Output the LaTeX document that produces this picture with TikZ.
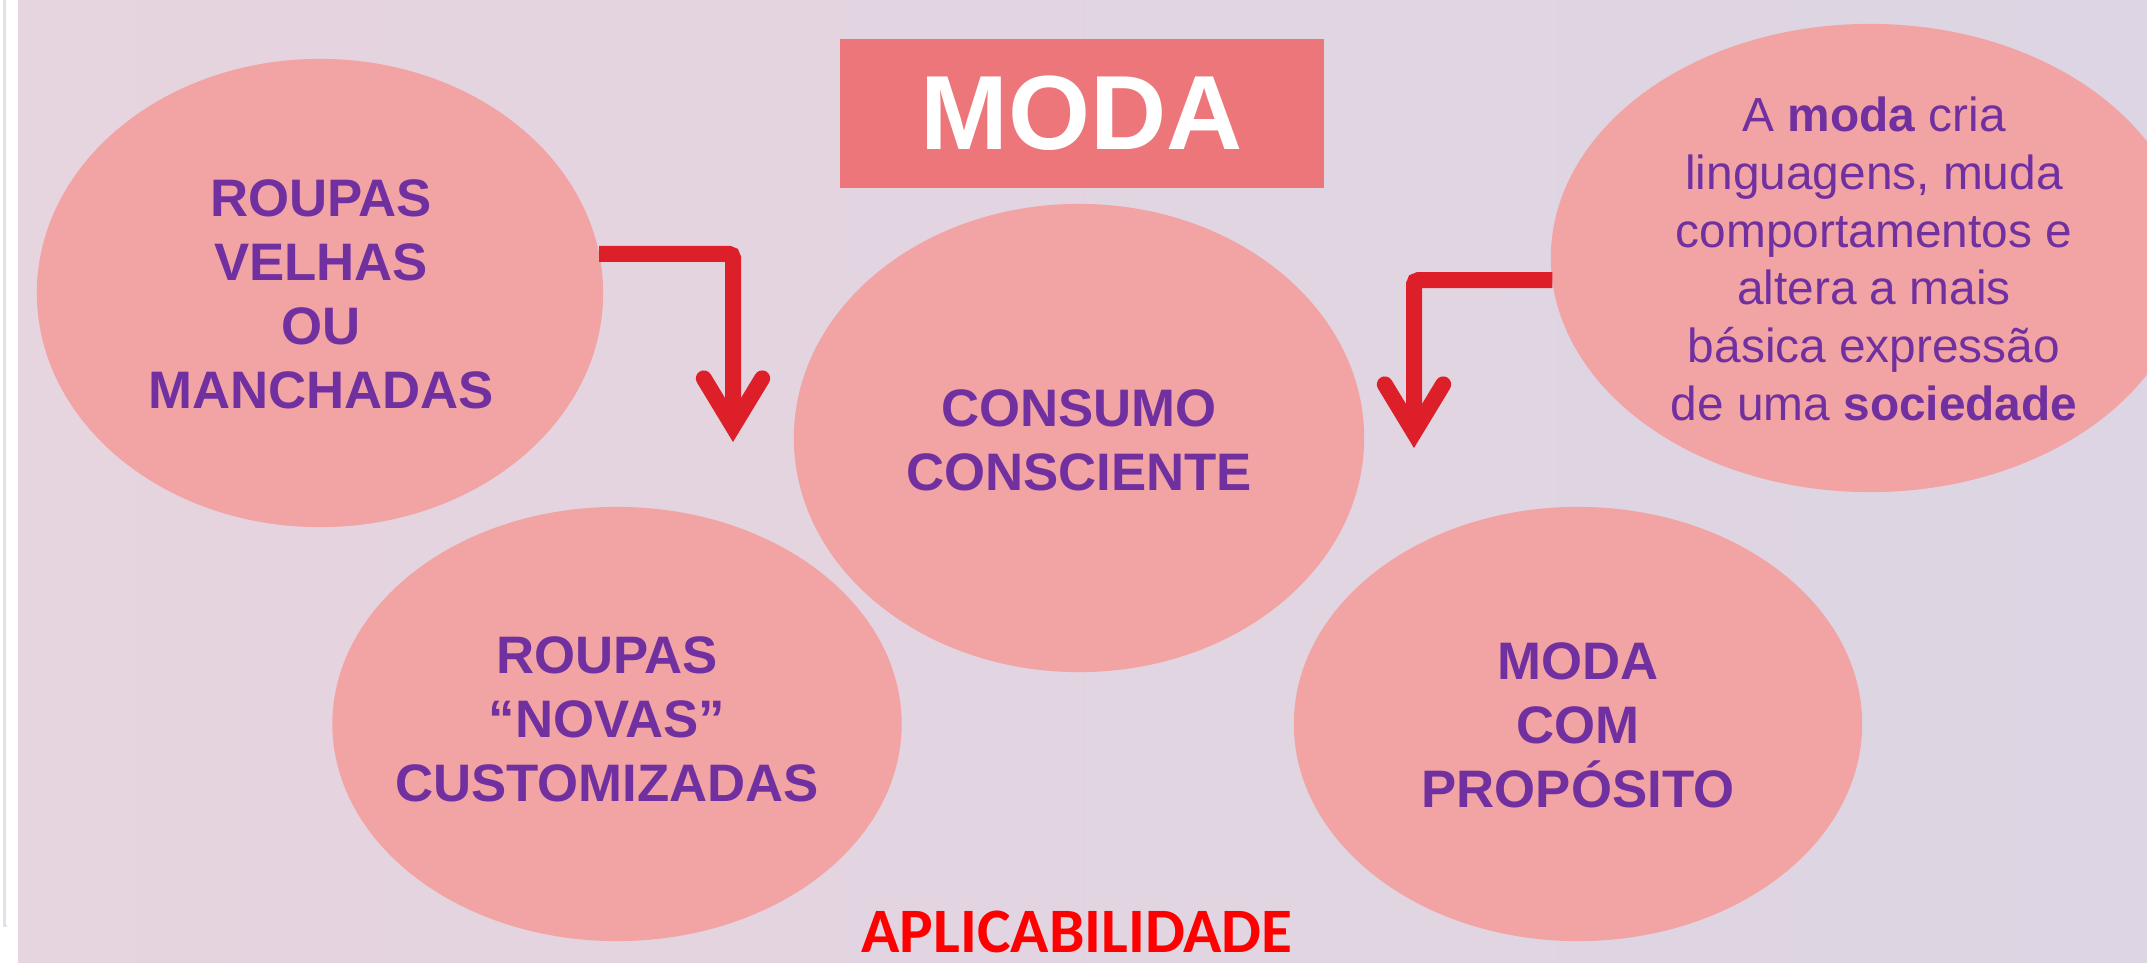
\documentclass[tikz,border=0pt]{standalone}
\usepackage{fontspec}
\setmainfont{Liberation Sans}
\newfontfamily\calibri{Carlito}
\usepackage{tikz}
\usetikzlibrary{arrows.meta,shapes.geometric}

\definecolor{fundoA}{RGB}{230,212,222}
\definecolor{fundoB}{RGB}{221,213,227}
\definecolor{rosa}{RGB}{242,163,164}
\definecolor{roxo}{RGB}{112,48,160}
\definecolor{salmao}{RGB}{236,118,122}
\definecolor{vermelho}{RGB}{220,31,40}
\definecolor{borda}{RGB}{222,227,234}

\begin{document}
\begin{tikzpicture}[x=0.01cm,y=-0.01cm,
  bolha/.style={ellipse,fill=rosa,inner sep=0pt,outer sep=0pt},
  rotulo/.style={align=center,text=roxo,inner sep=0pt,font=\bfseries\fontsize{15}{18.2}\selectfont},
  seta/.style={draw=vermelho,line width=4.55pt,rounded corners=1.2pt,
    -{Straight Barb[length=13.7pt,width=16.6pt,line cap=round,line join=miter]}}]
  \useasboundingbox (0,0) rectangle (2147,963);
  \shade[left color=fundoA,right color=fundoB] (18,0) rectangle (2147,963);
  \draw[borda,line width=0.6pt] (4.5,0) -- (4.5,926) -- (7,926);

  \node[bolha,minimum width=5.66cm,minimum height=4.68cm] (velhas) at (320,293) {};
  \node[bolha,minimum width=5.70cm,minimum height=4.68cm] (consumo) at (1079,438) {};
  \node[bolha,minimum width=5.69cm,minimum height=4.34cm] (novas) at (617,724) {};
  \node[bolha,minimum width=5.68cm,minimum height=4.34cm] (proposito) at (1578,724) {};
  \node[bolha,minimum width=6.38cm,minimum height=4.68cm] (mensagem) at (1870,258) {};

  \node[rotulo] (velhastxt) at (321,294) {ROUPAS\\VELHAS\\OU\\MANCHADAS};
  \node[rotulo] (consumotxt) at (1079,440) {CONSUMO\\CONSCIENTE};
  \node[rotulo] (novastxt) at (607,719) {ROUPAS\\“NOVAS”\\CUSTOMIZADAS};
  \node[rotulo] (propositotxt) at (1578,725.5) {MODA\\COM\\PROPÓSITO};
  \node[rotulo,font=\fontsize{13.6}{16.4}\selectfont] (frase) at (1874,259)
    {A \textbf{moda} cria\\linguagens, muda\\comportamentos e\\altera a mais\\básica expressão\\de uma \textbf{sociedade}};

  \node[fill=salmao,minimum width=4.84cm,minimum height=1.49cm,inner sep=0pt,text=white,
    font=\bfseries\fontsize{30}{36}\selectfont] (titulo) at (1082,113.5) {MODA};
  \node[anchor=base,inner sep=0pt,text=red,font=\calibri\bfseries\fontsize{18}{22}\selectfont]
    (aplicabilidade) at (1077,952) {APLICABILIDADE};

  \coordinate (ponta1) at (733,442);
  \coordinate (ponta2) at (1414,448);
  \draw[seta] (velhas.8.3) -| (ponta1);
  \draw[seta] (mensagem.184) -| (ponta2);
\end{tikzpicture}
\end{document}
